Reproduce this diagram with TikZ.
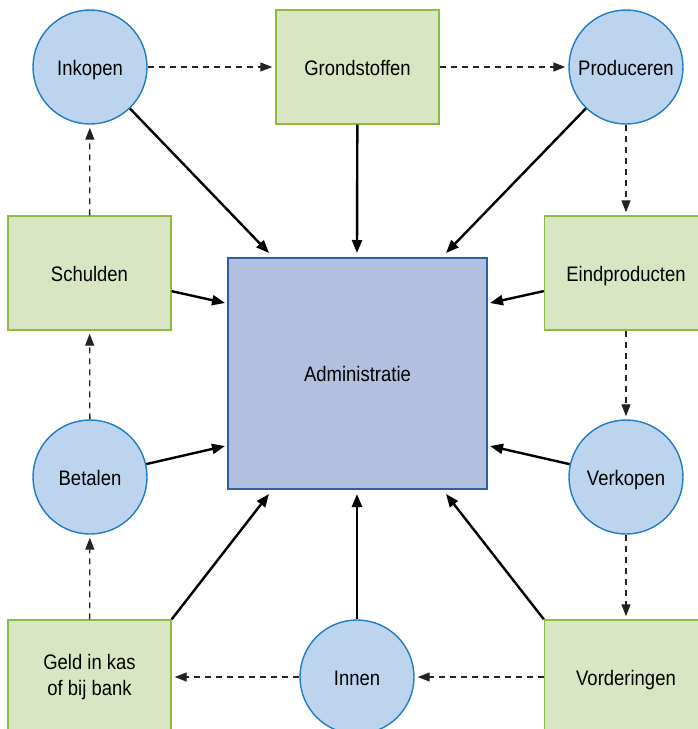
\documentclass[tikz,border=0pt]{standalone}
\usepackage{fontspec}
\setmainfont{Liberation Sans}[FakeStretch=0.88]
\usetikzlibrary{arrows.meta}
\definecolor{circfill}{RGB}{189,212,238}
\definecolor{circline}{RGB}{30,125,196}
\definecolor{boxfill}{RGB}{217,230,196}
\definecolor{boxline}{RGB}{140,187,64}
\definecolor{admfill}{RGB}{179,191,223}
\definecolor{admline}{RGB}{46,94,160}
\definecolor{flowline}{RGB}{35,35,35}
\begin{document}
\begin{tikzpicture}[x=1pt,y=-1pt,
  every node/.style={font=\fontsize{21}{26}\selectfont, align=center, text=black},
  oneline/.style={text height=17pt, text depth=1pt},
  activity/.style={circle, draw=circline, line width=1.4pt, fill=circfill,
    minimum size=114pt, inner sep=0pt},
  stock/.style={rectangle, draw=boxline, line width=1.4pt, fill=boxfill,
    minimum width=163pt, minimum height=114pt, inner sep=0pt},
  admin/.style={rectangle, draw=admline, line width=1.4pt, fill=admfill,
    minimum width=259pt, minimum height=231pt, inner sep=0pt},
  flow/.style={draw=flowline, dashed, dash pattern=on 6pt off 5pt, line width=1.3pt,
    -{Triangle[length=12pt,width=9pt]}, shorten >=3pt},
  record/.style={draw=black, line width=2.4pt,
    -{Triangle[length=13pt,width=10pt]}}
]
\useasboundingbox (0,0) rectangle (697,729);

% central administration
\node[admin, oneline] (adm) at (357.5,373.5) {Administratie};

% activities and stocks around it
\node[activity, oneline] (ink)  at (90,67)  {Inkopen};
\node[stock, oneline]    (gr)   at (357.5,67) {Grondstoffen};
\node[activity, oneline] (prod) at (626,67) {Produceren};
\node[stock, oneline]    (sch)  at (89.5,273) {Schulden};
\node[stock, oneline]    (eind) at (626,273) {Eindproducten};
\node[activity, oneline] (bet)  at (90,477) {Betalen};
\node[activity, oneline] (verk) at (626,477) {Verkopen};
\node[stock]             (geld) at (89.5,677) {Geld in kas\\of bij bank};
\node[activity, oneline] (inn)  at (357,677) {Innen};
\node[stock, oneline]    (vord) at (626,677) {Vorderingen};

% arrow ends at the administration block
\coordinate (aInk)  at (269,253);
\coordinate (aGr)   at (357,253);
\coordinate (aProd) at (446,253);
\coordinate (aSch)  at (225,303);
\coordinate (aEind) at (490,303);
\coordinate (aBet)  at (225,446);
\coordinate (aVerk) at (490,446);
\coordinate (aGeld) at (269,494);
\coordinate (aInn)  at (357,494);
\coordinate (aVord) at (446,494);

% the goods and money cycle
\draw[flow] (ink) -- (gr);
\draw[flow] (gr) -- (prod);
\draw[flow] (prod) -- (eind);
\draw[flow] (eind) -- (verk);
\draw[flow] (verk) -- (vord);
\draw[flow] (vord) -- (inn);
\draw[flow] (inn) -- (geld);
\draw[flow] (geld) -- (bet);
\draw[flow] (bet) -- (sch);
\draw[flow] (sch) -- (ink);

% everything is recorded in the administration
\draw[record] (ink) -- (aInk);
\draw[record] (gr) -- (aGr);
\draw[record] (prod) -- (aProd);
\draw[record] (sch) -- (aSch);
\draw[record] (eind) -- (aEind);
\draw[record] (bet) -- (aBet);
\draw[record] (verk) -- (aVerk);
\draw[record] (geld.north east) -- (aGeld);
\draw[record] (inn) -- (aInn);
\draw[record] (vord.north west) -- (aVord);
\end{tikzpicture}
\end{document}
